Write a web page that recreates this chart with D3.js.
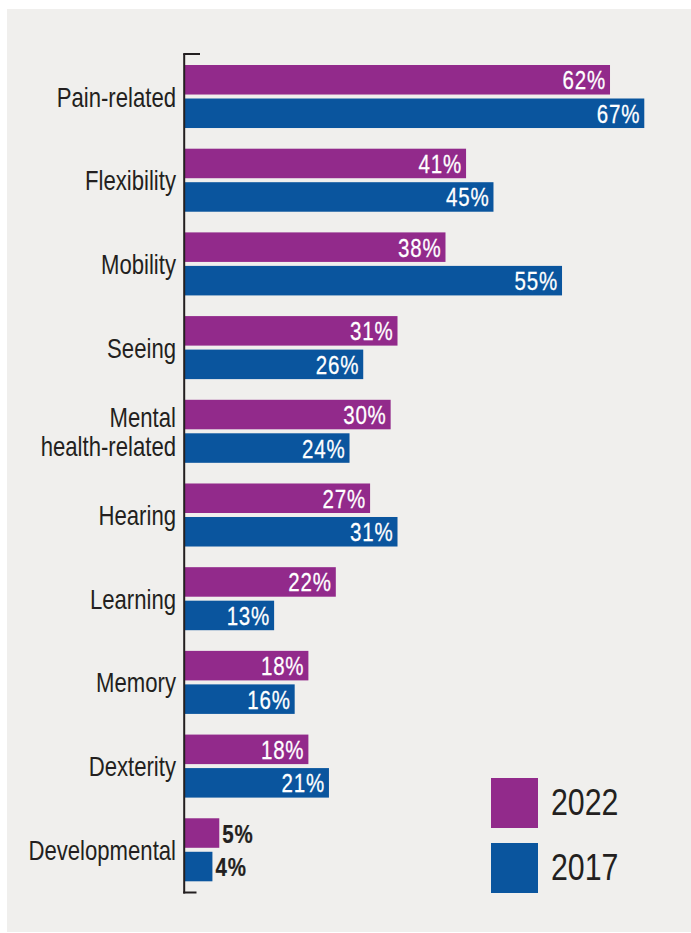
<!DOCTYPE html>
<html>
<head>
<meta charset="utf-8">
<script src="https://cdn.jsdelivr.net/npm/d3@7"></script>
<style>
  html, body { margin: 0; padding: 0; background: #ffffff; }
  svg { display: block; }
</style>
</head>
<body>
<div id="chart"></div>
<script>
// Types of disability reported, share of respondents (%)
const categories = [
  ["Pain-related"],
  ["Flexibility"],
  ["Mobility"],
  ["Seeing"],
  ["Mental", "health-related"],
  ["Hearing"],
  ["Learning"],
  ["Memory"],
  ["Dexterity"],
  ["Developmental"]
];
const seriesNames = ["2022", "2017"];
const values2022 = [62, 41, 38, 31, 30, 27, 22, 18, 18, 5];
const values2017 = [67, 45, 55, 26, 24, 31, 13, 16, 21, 4];
const seriesColors = ["#922a8b", "#0a559e"];

const W = 691, H = 933;

// Pick a condensed face; fall back to a horizontally squeezed regular face.
function measure(font, txt) {
  const c = document.createElement("canvas").getContext("2d");
  c.font = font;
  return c.measureText(txt).width;
}
const probe = "Developmental 2022";
const hasNarrow = measure('24px "Liberation Sans Narrow", monospace', probe) !== measure("24px monospace", probe);
const FONT = hasNarrow ? '"Liberation Sans Narrow", "Liberation Sans", Arial, sans-serif' : '"Liberation Sans", Arial, sans-serif';
const SQUEEZE = hasNarrow ? 1 : 0.82;

const svg = d3.select("#chart").append("svg")
  .attr("width", W).attr("height", H);

// light panel
svg.append("rect")
  .attr("x", 7).attr("y", 9)
  .attr("width", W - 7).attr("height", 923)
  .attr("fill", "#f0efed");

const keys = categories.map(d => d.join(" "));
const rows = keys.map((k, i) => ({ key: k, lines: categories[i], vals: [values2022[i], values2017[i]] }));

const x = d3.scaleLinear().domain([0, 100]).range([185, 185 + 685.5]);
const y = d3.scaleBand().domain(keys).range([65, 881.3]).paddingInner(0.247).paddingOuter(0);
const ySub = d3.scaleBand().domain(seriesNames).range([0, y.bandwidth()]).paddingInner(0.119).paddingOuter(0);

const ink = "#231f20";

function placeText(sel, tx, ty, sy) {
  return sel.attr("transform", `translate(${tx},${ty}) scale(${SQUEEZE},${sy || 1})`);
}

// bars and value labels
const groups = svg.append("g").selectAll("g.row")
  .data(rows).join("g")
  .attr("class", "row")
  .attr("transform", d => `translate(0,${y(d.key)})`);

groups.each(function (d) {
  const g = d3.select(this);
  seriesNames.forEach((s, j) => {
    const v = d.vals[j];
    const y0 = ySub(s);
    const bh = ySub.bandwidth();
    g.append("rect")
      .attr("x", x(0))
      .attr("y", y0)
      .attr("width", x(v) - x(0))
      .attr("height", bh)
      .attr("fill", seriesColors[j]);
    const inside = v >= 10;
    const t = g.append("text")
      .text(v + "%")
      .attr("font-family", FONT)
      .attr("font-size", 25)
      .attr("letter-spacing", 1)
      .attr("text-anchor", inside ? "end" : "start")
      .attr("fill", inside ? "#ffffff" : ink)
      .attr("stroke", inside ? "#ffffff" : ink)
      .attr("stroke-width", inside ? 0.25 : 0.2)
      .attr("font-weight", inside ? "normal" : "bold");
    placeText(t, inside ? x(v) - 4 : x(v) + 3, y0 + bh / 2 + 9.5, 1.04);
  });
});

// category labels
svg.append("g").selectAll("g.lab")
  .data(rows).join("g")
  .attr("class", "lab")
  .each(function (d) {
    const cy = y(d.key) + y.bandwidth() / 2;
    const n = d.lines.length;
    d.lines.forEach((line, k) => {
      const t = d3.select(this).append("text")
        .text(line)
        .attr("font-family", FONT)
        .attr("font-size", 27)
        .attr("text-anchor", "end")
        .attr("fill", ink);
      placeText(t, 176, cy + 10 + (k - (n - 1) / 2) * 29);
    });
  });

// vertical axis bracket
const axisTop = 54, axisBottom = 892.5;
svg.append("line")
  .attr("x1", 184.2).attr("x2", 184.2)
  .attr("y1", axisTop).attr("y2", axisBottom + 1)
  .attr("stroke", ink).attr("stroke-width", 2);
svg.append("line")
  .attr("x1", 183.2).attr("x2", 200)
  .attr("y1", axisTop).attr("y2", axisTop)
  .attr("stroke", ink).attr("stroke-width", 2);
svg.append("line")
  .attr("x1", 183.2).attr("x2", 196.5)
  .attr("y1", axisBottom).attr("y2", axisBottom)
  .attr("stroke", ink).attr("stroke-width", 2);

// legend
const legend = svg.append("g").selectAll("g.leg")
  .data(seriesNames).join("g")
  .attr("class", "leg")
  .attr("transform", (d, i) => `translate(491,${778 + i * 65})`);
legend.append("rect")
  .attr("width", 47).attr("height", 50)
  .attr("fill", (d, i) => seriesColors[i]);
legend.each(function (d) {
  const t = d3.select(this).append("text")
    .text(d)
    .attr("font-family", FONT)
    .attr("font-size", 37)
    .attr("fill", ink);
  placeText(t, 60, 37);
});
</script>
</body>
</html>
